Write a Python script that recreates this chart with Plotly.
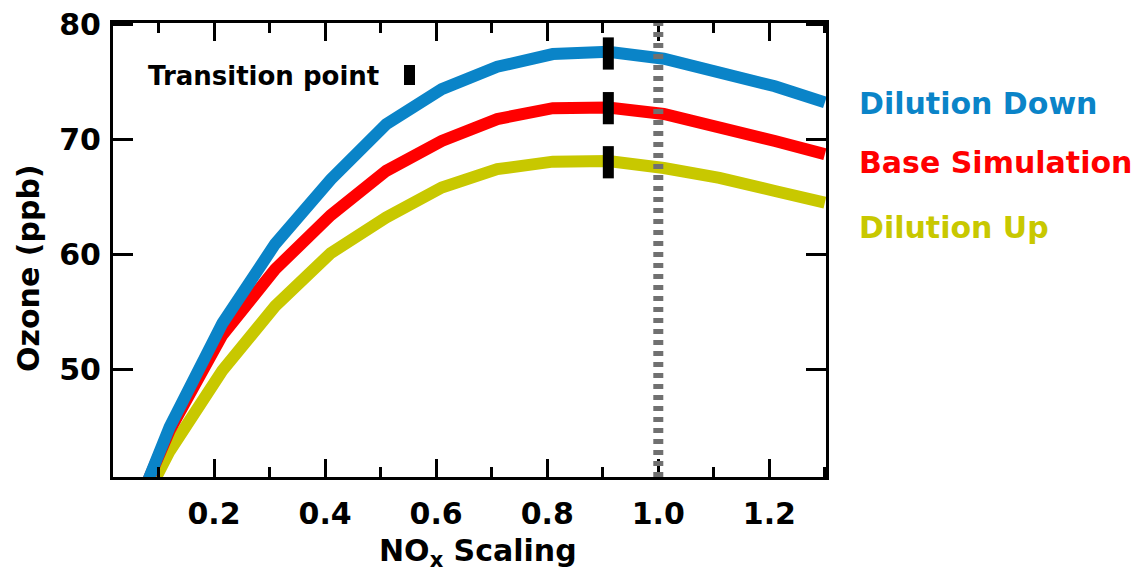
import plotly.graph_objects as go

# NOx scaling (x) values at the line vertices
nox_scaling = [0.08, 0.12, 0.215, 0.31, 0.41, 0.51, 0.61, 0.71, 0.81, 0.91, 1.01, 1.11, 1.21, 1.30]
nox_scaling_up = [0.09, 0.12, 0.215, 0.31, 0.41, 0.51, 0.61, 0.71, 0.81, 0.91, 1.01, 1.11, 1.21, 1.30]

ozone_dilution_down = [40.2, 45.0, 54.0, 60.9, 66.5, 71.3, 74.35, 76.3, 77.4, 77.6, 77.0, 75.9, 74.6, 73.2]
ozone_base = [40.2, 44.7, 53.0, 58.7, 63.4, 67.25, 69.85, 71.75, 72.7, 72.75, 72.2, 71.15, 69.85, 68.7]
ozone_dilution_up = [40.1, 42.9, 49.9, 55.5, 60.1, 63.2, 65.8, 67.4, 68.05, 68.1, 67.5, 66.65, 65.5, 64.5]

series_names = ["Dilution Down", "Base Simulation", "Dilution Up"]
series_colors = ["#0A84C8", "#FF0000", "#C8C800"]

transition_x = 0.91
transition_y = [77.45, 72.7, 68.0]
transition_half = 1.4

reference_x = 1.0

x_ticks = [0.2, 0.4, 0.6, 0.8, 1.0, 1.2]
y_ticks = [50, 60, 70, 80]

FONT = "DejaVu Sans"

fig = go.Figure()

# draw order: yellow, red, blue (blue on top)
data = [
    (nox_scaling_up, ozone_dilution_up, series_names[2], series_colors[2]),
    (nox_scaling, ozone_base, series_names[1], series_colors[1]),
    (nox_scaling, ozone_dilution_down, series_names[0], series_colors[0]),
]
for xs, ys, name, color in data:
    fig.add_trace(go.Scatter(x=xs, y=ys, mode="lines", name=name,
                             line=dict(color=color, width=12),
                             showlegend=False))

# transition-point bars
bx, by = [], []
for yv in transition_y:
    bx += [transition_x, transition_x, None]
    by += [yv - transition_half, yv + transition_half, None]
fig.add_trace(go.Scatter(x=bx, y=by, mode="lines", name="Transition point",
                         line=dict(color="black", width=11), showlegend=False))

# dotted reference line at NOx scaling = 1.0
fig.add_shape(type="line", xref="x", yref="paper", x0=reference_x, x1=reference_x,
              y0=0, y1=1, line=dict(color="#707070", width=10, dash="5px,6px"),
              layer="above")

axis_common = dict(showline=True, linecolor="black", linewidth=3, mirror="ticks",
                   ticks="inside", tickcolor="black", tickwidth=3,
                   showgrid=False, zeroline=False, automargin=False,
                   ticklabeloverflow="allow",
                   tickfont=dict(family=FONT, size=30, color="black", weight="bold"))

fig.update_xaxes(range=[0.018, 1.302], tickvals=x_ticks, tickformat=".1f",
                 ticklen=18, ticklabelstandoff=8,
                 minor=dict(dtick=0.1, tick0=0, ticklen=10, tickwidth=3,
                            tickcolor="black", ticks="inside"),
                 **axis_common)
fig.update_yaxes(range=[40.65, 80.1], tickvals=y_ticks, ticklen=20,
                 ticklabelstandoff=3, **axis_common)

title_font = dict(family=FONT, size=30, color="black", weight="bold")

# x-axis title
fig.add_annotation(text="NO<sub>x</sub> Scaling", xref="paper", yref="paper",
                   x=(478 - 113) / 713, y=(477 - 552) / 454, xanchor="center",
                   yanchor="middle", showarrow=False, font=title_font)

# y-axis title
fig.add_annotation(text="Ozone (ppb)", textangle=-90, xref="paper", yref="paper",
                   x=(28 - 113) / 713, y=(477 - 268) / 454, xanchor="center",
                   yanchor="middle", showarrow=False, font=title_font)

# series labels on the right
label_y = [103, 162, 228]
for name, color, py in zip(series_names, series_colors, label_y):
    fig.add_annotation(text=name, xref="paper", yref="paper",
                       x=(857 - 113) / 713, y=(477 - py) / 454,
                       xanchor="left", yanchor="middle", showarrow=False,
                       font=dict(family=FONT, size=30, color=color, weight="bold"))

# transition point key
fig.add_annotation(text="Transition point", xref="paper", yref="paper",
                   x=(146 - 113) / 713, y=(477 - 76) / 454,
                   xanchor="left", yanchor="middle", showarrow=False,
                   font=dict(family=FONT, size=26, color="black", weight="bold"))
fig.add_shape(type="rect", xref="paper", yref="paper",
              x0=(404 - 113) / 713, x1=(415 - 113) / 713,
              y0=(477 - 85) / 454, y1=(477 - 65) / 454,
              fillcolor="black", line=dict(width=0))

# the page body adds an 8px offset, so the figure is 8px smaller with 8px less left/top margin
fig.update_layout(width=1135, height=563, plot_bgcolor="white", paper_bgcolor="white",
                  margin=dict(l=105, r=317, t=15, b=94), showlegend=False)

fig.write_html("out.html")
